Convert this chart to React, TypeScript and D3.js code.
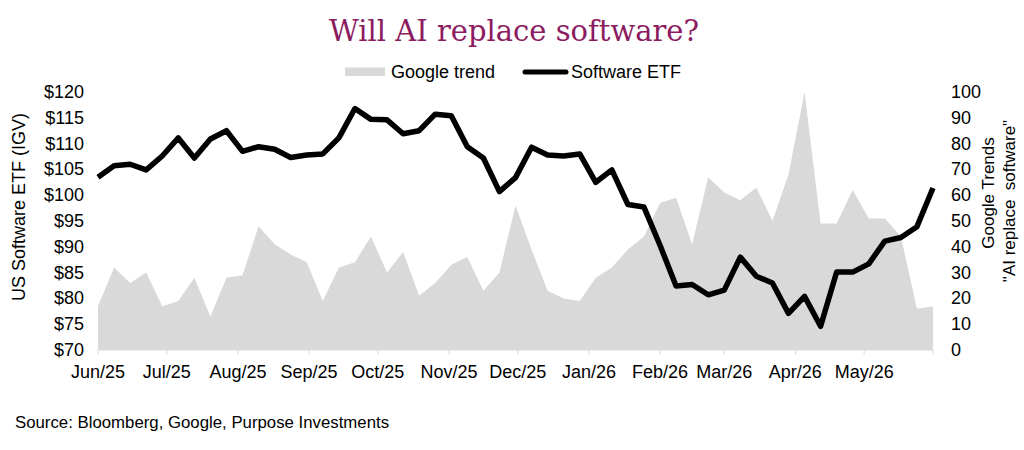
import * as d3 from "d3"

// Weekly readings, first week starting 2025-06-01
const startDate = new Date(Date.UTC(2025, 5, 1))
const endDate = new Date(Date.UTC(2026, 4, 31))

// iShares software ETF (IGV) close, $
const etfValues = [
  103.5, 105.7, 106.0, 104.9, 107.6, 111.1, 107.2, 110.9, 112.5, 108.5,
  109.4, 108.9, 107.3, 107.8, 108.0, 111.1, 116.8, 114.7, 114.6, 111.9,
  112.5, 115.7, 115.4, 109.4, 107.2, 100.7, 103.4, 109.3, 107.8, 107.6,
  108.0, 102.5, 104.9, 98.2, 97.7, 90.3, 82.4, 82.7, 80.7, 81.6,
  88.0, 84.3, 83.0, 77.1, 80.4, 74.6, 85.1, 85.1, 86.7, 91.1,
  91.8, 93.9, 101.4,
]

// Google Trends interest, "AI replace software"
const trendValues = [
  17, 32, 26, 30, 17, 19, 28, 13, 28, 29,
  48, 41, 37, 34, 19, 32, 34, 44, 30, 38,
  21, 26, 33, 36, 23, 30, 56, 39, 23, 20,
  19, 28, 32, 39, 44, 57, 59, 41, 67, 61,
  58, 63, 50, 68, 100, 49, 49, 62, 51, 51,
  44, 16, 17,
]

const leftTicks = [70, 75, 80, 85, 90, 95, 100, 105, 110, 115, 120]
const rightTicks = [0, 10, 20, 30, 40, 50, 60, 70, 80, 90, 100]
const monthLabels = [
  "Jun/25", "Jul/25", "Aug/25", "Sep/25", "Oct/25", "Nov/25",
  "Dec/25", "Jan/26", "Feb/26", "Mar/26", "Apr/26", "May/26",
]

const W = 1024
const H = 450
const plot = { left: 98, right: 933, top: 92, bottom: 350 }
const font = "Liberation Sans, Arial, sans-serif"

export default function App() {
  const weeks = etfValues.map((_, i) => d3.utcDay.offset(startDate, 7 * i))

  const x = d3.scaleUtc().domain([startDate, endDate]).range([plot.left, plot.right])
  const yLeft = d3.scaleLinear().domain([70, 120]).range([plot.bottom, plot.top])
  const yRight = d3.scaleLinear().domain([0, 100]).range([plot.bottom, plot.top])

  const monthTicks = d3.utcMonth.range(startDate, endDate)
  const tickDates = [...monthTicks, endDate]

  const area = d3
    .area<number>()
    .x((_, i) => x(weeks[i]))
    .y0(yRight(0))
    .y1((d) => yRight(d))

  const line = d3
    .line<number>()
    .x((_, i) => x(weeks[i]))
    .y((d) => yLeft(d))

  return (
    <svg
      width={W}
      height={H}
      style={{ position: "absolute", left: 0, top: 0, background: "#fff" }}
      fontFamily={font}
    >
      <text
        x={514}
        y={41}
        textAnchor="middle"
        fontFamily="Georgia, 'DejaVu Serif', 'Liberation Serif', serif"
        fontSize={29}
        fill="#8c1b60"
      >
        Will AI replace software?
      </text>

      {/* legend */}
      <rect x={345} y={67.5} width={40} height={8.5} fill="#d9d9d9" />
      <text x={391} y={72} dominantBaseline="central" fontSize={18} fill="#000">
        Google trend
      </text>
      <line x1={525} x2={566} y1={72} y2={72} stroke="#000" strokeWidth={5} strokeLinecap="round" />
      <text x={571} y={72} dominantBaseline="central" fontSize={18} fill="#000">
        Software ETF
      </text>

      <path d={area(trendValues) ?? ""} fill="#d9d9d9" />

      {/* x axis */}
      <line x1={plot.left} x2={plot.right} y1={plot.bottom} y2={plot.bottom} stroke="#d9d9d9" strokeWidth={1} />
      {tickDates.map((d, i) => (
        <line
          key={i}
          x1={x(d)}
          x2={x(d)}
          y1={plot.bottom}
          y2={plot.bottom + 5}
          stroke="#d9d9d9"
          strokeWidth={1}
        />
      ))}
      {monthTicks.map((d, i) => (
        <text key={i} x={x(d)} y={372} textAnchor="middle" dominantBaseline="central" fontSize={18}>
          {monthLabels[i]}
        </text>
      ))}

      <path
        d={line(etfValues) ?? ""}
        fill="none"
        stroke="#000"
        strokeWidth={5.5}
        strokeLinejoin="round"
      />

      {/* left axis */}
      {leftTicks.map((v) => (
        <text key={v} x={84} y={yLeft(v)} textAnchor="end" dominantBaseline="central" fontSize={18}>
          {`$${v}`}
        </text>
      ))}
      <text
        transform={`translate(19,${(plot.top + plot.bottom) / 2 - 14}) rotate(-90)`}
        textAnchor="middle"
        dominantBaseline="central"
        fontSize={18}
      >
        US Software ETF (IGV)
      </text>

      {/* right axis */}
      {rightTicks.map((v) => (
        <text key={v} x={951} y={yRight(v)} dominantBaseline="central" fontSize={18}>
          {v}
        </text>
      ))}
      <text
        transform="translate(988,193) rotate(-90)"
        textAnchor="middle"
        dominantBaseline="central"
        fontSize={17}
      >
        Google Trends
      </text>
      <text
        transform="translate(1009,201) rotate(-90)"
        textAnchor="middle"
        dominantBaseline="central"
        fontSize={17}
        style={{ whiteSpace: "pre" }}
      >
        {'"AI replace  software"'}
      </text>

      <text x={15} y={422} dominantBaseline="central" fontSize={16.8}>
        Source: Bloomberg, Google, Purpose Investments
      </text>
    </svg>
  )
}
